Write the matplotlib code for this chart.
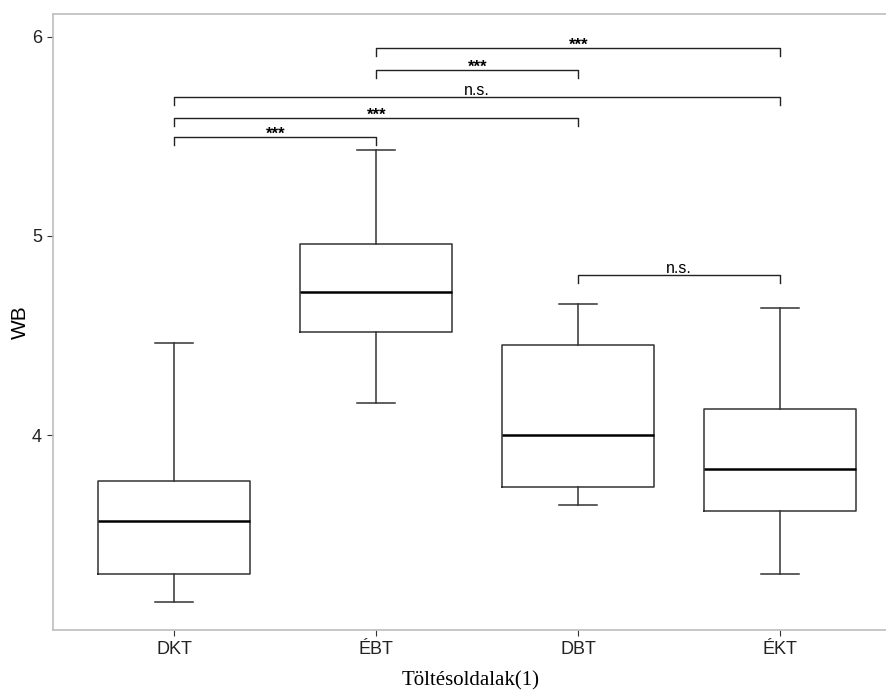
import matplotlib
matplotlib.use('Agg')
import matplotlib.pyplot as plt

# box summaries
groups = ['DKT', 'ÉBT', 'DBT', 'ÉKT']
whislo = [3.16, 4.16, 3.65, 3.30]
q1 = [3.30, 4.52, 3.74, 3.62]
med = [3.57, 4.72, 4.00, 3.83]
q3 = [3.77, 4.96, 4.45, 4.13]
whishi = [4.46, 5.43, 4.66, 4.64]

# significance brackets: (from group, to group, height, label)
pairs = [(1, 2, 5.497, '***'),
         (1, 3, 5.593, '***'),
         (1, 4, 5.698, 'n.s.'),
         (2, 3, 5.834, '***'),
         (2, 4, 5.945, '***'),
         (3, 4, 4.804, 'n.s.')]

W, H = 887, 691
fig = plt.figure(figsize=(W / 100, H / 100), dpi=100)
ax = fig.add_axes([53 / W, (H - 630) / H, (W - 53) / W, (630 - 14) / H])

stats = []
for i, g in enumerate(groups):
    stats.append(dict(label=g, whislo=whislo[i], q1=q1[i], med=med[i],
                      q3=q3[i], whishi=whishi[i], fliers=[]))

ax.bxp(stats, positions=[1, 2, 3, 4], widths=0.75, showfliers=False,
       boxprops=dict(color='#333333', linewidth=1.1),
       whiskerprops=dict(color='#333333', linewidth=1.1),
       capprops=dict(color='#333333', linewidth=1.1),
       medianprops=dict(color='black', linewidth=1.8),
       capwidths=0.19)

tick = 0.04
for a, b, y, lab in pairs:
    ax.plot([a, a, b, b], [y - tick, y, y, y - tick], color='#222222', lw=1.0)
    if lab == '***':
        ax.annotate(lab, ((a + b) / 2, y), xytext=(0, -1.2), textcoords='offset points',
                    ha='center', va='baseline', fontsize=12, fontweight='bold',
                    family='Liberation Sans')
    else:
        ax.annotate(lab, ((a + b) / 2, y), xytext=(0, 1.5), textcoords='offset points',
                    ha='center', va='baseline', fontsize=11.5, family='Liberation Sans')

ax.set_xlim(0.4, 0.4 + (W - 53) / 202)
ax.set_ylim(6 - (630 - 37) / 199, 6 + 23 / 199)
ax.set_yticks([4, 5, 6])
ax.set_xticks([1, 2, 3, 4])
ax.set_xticklabels(groups)

for s in ['left', 'top', 'bottom']:
    ax.spines[s].set_color('#bebebe')
    ax.spines[s].set_linewidth(1.2)
ax.spines['right'].set_visible(False)
ax.tick_params(length=4, color='#333333', labelsize=13, pad=4)
for lbl in ax.get_xticklabels() + ax.get_yticklabels():
    lbl.set_family('Liberation Sans')
    lbl.set_color('#222222')

fig.text(20 / W, 1 - 322 / H, 'WB', rotation=90, ha='center', va='center',
         fontsize=15, family='Liberation Sans')
fig.text(471 / W, 1 - 681 / H, 'Töltésoldalak(1)', ha='center',
         va='center', fontsize=15, family='Liberation Serif')

fig.savefig('out.png', dpi=100)
